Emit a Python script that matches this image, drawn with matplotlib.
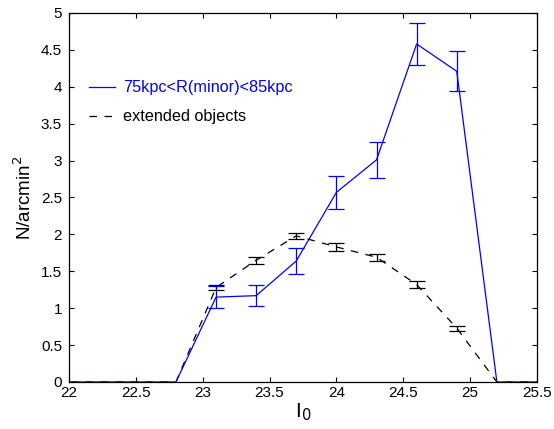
import matplotlib
matplotlib.use('Agg')
import matplotlib.pyplot as plt
import numpy as np

plt.rcParams['font.family'] = ['Liberation Sans', 'DejaVu Sans']

mag = [21.9, 22.2, 22.5, 22.8, 23.1, 23.4, 23.7, 24.0, 24.3, 24.6, 24.9, 25.2, 25.5]
n_minor = [0, 0, 0, 0, 1.15, 1.17, 1.64, 2.57, 3.01, 4.58, 4.21, 0, 0]
err_minor = [0, 0, 0, 0, 0.15, 0.14, 0.17, 0.22, 0.24, 0.29, 0.27, 0, 0]
n_ext = [0, 0, 0, 0, 1.28, 1.65, 1.98, 1.83, 1.69, 1.32, 0.73, 0, 0]
err_ext = [0, 0, 0, 0, 0.03, 0.045, 0.04, 0.05, 0.045, 0.045, 0.035, 0, 0]

fig = plt.figure(figsize=(5.54, 4.29), dpi=100)
ax = fig.add_axes([0.1245, 0.1096, 0.8448, 0.8601])

mag_a = np.array(mag)
m = np.array(err_minor) > 0
e = np.array(err_ext) > 0

ax.plot(mag, n_ext, color='k', ls=(0, (6, 6)), lw=0.9, label='extended objects')
ax.errorbar(mag_a[e], np.array(n_ext)[e], yerr=np.array(err_ext)[e], fmt='none',
            ecolor='k', elinewidth=0.9, capsize=5.8, capthick=0.9)
ax.plot(mag, n_minor, color='#0000ff', lw=0.9, label='75kpc<R(minor)<85kpc')
ax.errorbar(mag_a[m], np.array(n_minor)[m], yerr=np.array(err_minor)[m], fmt='none',
            ecolor='#0000ff', elinewidth=0.9, capsize=5.8, capthick=0.9)

ax.set_xlim(22, 25.5)
ax.set_ylim(0, 5)
ax.set_xticks([22, 22.5, 23, 23.5, 24, 24.5, 25, 25.5])
ax.set_xticklabels(['22', '22.5', '23', '23.5', '24', '24.5', '25', '25.5'])
ax.set_yticks([0, 0.5, 1, 1.5, 2, 2.5, 3, 3.5, 4, 4.5, 5])
ax.set_yticklabels(['0', '0.5', '1', '1.5', '2', '2.5', '3', '3.5', '4', '4.5', '5'])
ax.tick_params(direction='in', top=True, right=True, labelsize=11, length=3.6, width=0.8)
ax.tick_params(axis='y', pad=5)
ax.tick_params(axis='x', pad=3)
for s in ax.spines.values():
    s.set_linewidth(0.9)

ax.set_xlabel('I$_0$', fontsize=15, labelpad=1)
ax.set_ylabel('N/arcmin$^2$', fontsize=13.5, labelpad=4)

handles, labels = ax.get_legend_handles_labels()
leg = ax.legend(handles[::-1], labels[::-1], loc='upper left', bbox_to_anchor=(0.012, 0.857),
                frameon=False, fontsize=11.7, handlelength=1.6, handletextpad=0.5,
                labelspacing=0.85)
leg.get_texts()[0].set_color('#0000ff')

fig.savefig('out.png', dpi=100)
